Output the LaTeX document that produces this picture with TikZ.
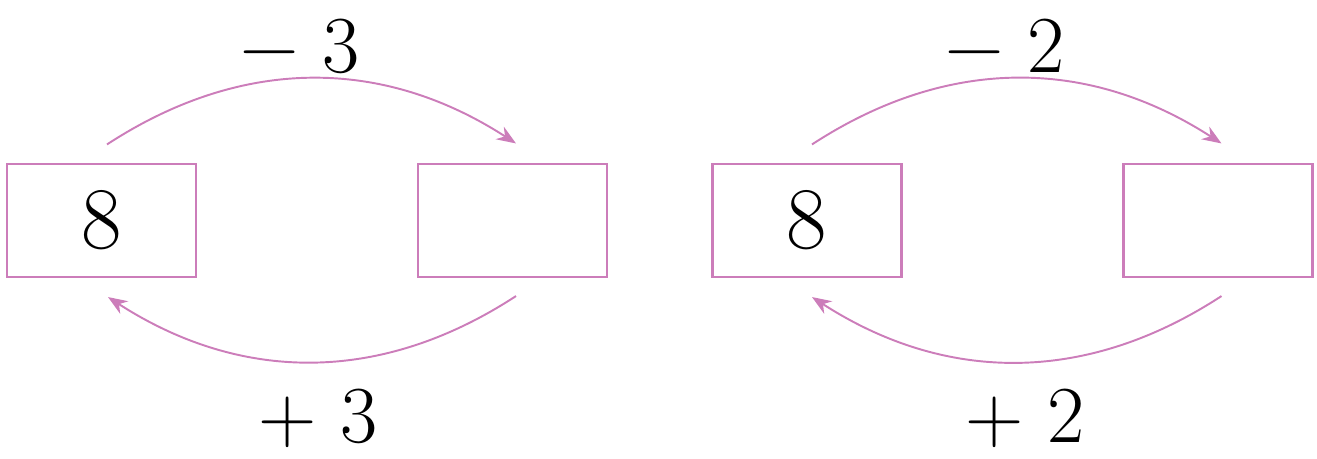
\documentclass[tikz,border=0pt]{standalone}
\usepackage{tikz}
\usetikzlibrary{positioning, arrows.meta}
\definecolor{arcpink}{RGB}{204,125,186}

\begin{document}
\begin{tikzpicture}[node distance=8.22cm, on grid]
                \tikzset{numbox/.style={draw=arcpink, line width=1.2pt, minimum width=3.78cm, minimum height=2.26cm, inner sep=0pt, font=\fontsize{50}{60}\selectfont},
                         oplabel/.style={font=\fontsize{46}{56}\selectfont, inner sep=0pt}}
                \useasboundingbox (0,0) rectangle (26.34,-9.18);

                \node[numbox] (b1) at (2.03,-4.41) {8};
                \node[numbox] (b2) [right=of b1] {};
                \node[numbox] (b3) [right=5.89cm of b2] {8};
                \node[numbox] (b4) [right=of b3] {};

                % arc ends
                \coordinate (t1) at ([shift={(0.11,0.37)}]b1.north);
                \coordinate (t2) at ([shift={(0.07,0.39)}]b2.north);
                \coordinate (u2) at ([shift={(0.07,-0.36)}]b2.south);
                \coordinate (u1) at ([shift={(0.13,-0.38)}]b1.south);
                \coordinate (t3) at ([shift={(0.10,0.37)}]b3.north);
                \coordinate (t4) at ([shift={(0.07,0.39)}]b4.north);
                \coordinate (u4) at ([shift={(0.07,-0.36)}]b4.south);
                \coordinate (u3) at ([shift={(0.10,-0.38)}]b3.south);

                \path[-{Stealth[length=11pt, width=8.5pt]}, color=arcpink, line width=1.1pt]
                    (t1) edge[bend left=33] (t2)
                    (u2) edge[bend left=33] (u1)
                    (t3) edge[bend left=33] (t4)
                    (u4) edge[bend left=33] (u3);

                \node[oplabel] (m1) at (6.0,-0.92) {− 3};
                \node[oplabel] (p1) at (6.36,-8.36) {+ 3};
                \node[oplabel] (m2) at (20.1,-0.92) {− 2};
                \node[oplabel] (p2) at (20.5,-8.36) {+ 2};

            \end{tikzpicture}
\end{document}
